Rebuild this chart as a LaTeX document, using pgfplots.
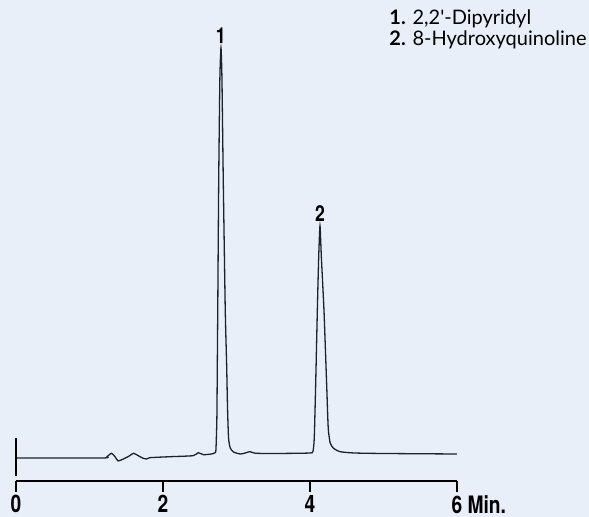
\documentclass[border=0pt]{standalone}
\usepackage{pgfplots}
\pgfplotsset{compat=1.18}
\usepackage{fontspec}
\setmainfont{TeX Gyre Heros}
\newfontfamily\condfont[FakeStretch=0.8]{TeX Gyre Heros}
\newfontfamily\legfont{Lato}
\definecolor{bgblue}{HTML}{E8EFF8}
\definecolor{trace}{HTML}{1A222B}

\begin{document}
\begin{tikzpicture}
% background, 1px = 0.5pt
\fill[bgblue] (0,0) rectangle (294.5pt,258.5pt);
\begin{axis}[
    at={(8pt,18pt)}, anchor=south west,
    x=36.75pt, y=0.5pt,
    xmin=0, xmax=6, ymin=-23, ymax=458,
    axis x line=bottom, axis y line=none,
    x axis line style={-, line width=0.7pt, black},
    xtick={0,2,4,6},
    xticklabels={0,2,4,6\rlap{ Min.}},
    tick align=outside,
    major tick length=5.5pt,
    tick style={line width=1pt, black},
    xticklabel style={font=\condfont\bfseries\fontsize{12}{13}\selectfont,
        anchor=north, inner sep=0pt, yshift=-1.5pt},
    clip=false,
]
\addplot[trace, line width=0.65pt, smooth, tension=0.35] coordinates {
    (0,0) (1.18,0) (1.24,1.5) (1.30,4.7) (1.35,1) (1.39,-3) (1.46,-1)
    (1.53,1.5) (1.60,4.7) (1.67,2) (1.73,-0.3) (1.78,-1) (1.82,0.3)
    (2.10,1.3) (2.41,2.3) (2.48,5.3) (2.55,3.3) (2.66,4) (2.70,5)
    (2.72,8) (2.733,40) (2.739,93) (2.745,148) (2.758,278) (2.774,380)
    (2.789,410) (2.802,380) (2.820,278) (2.847,148) (2.866,93) (2.878,50)
    (2.892,20) (2.915,10) (2.96,6) (3.05,4) (3.12,5) (3.18,6.3) (3.24,5)
    (3.30,4.6) (3.70,4.6) (4.00,5) (4.04,6.5) (4.058,20) (4.077,73)
    (4.100,148) (4.118,200) (4.136,232) (4.155,200) (4.190,148) (4.227,73)
    (4.248,30) (4.275,15) (4.32,9.7) (4.41,6.3) (4.60,5) (5.00,4.5) (6.00,4)
};
\draw[black, line width=1pt] (axis cs:0,20) -- (axis cs:0,-18);
\node[font=\condfont\bfseries\fontsize{11}{12}\selectfont] at (axis cs:2.785,422.5) {1};
\node[font=\condfont\bfseries\fontsize{11}{12}\selectfont] at (axis cs:4.136,244.5) {2};
\node[anchor=base west, font=\legfont\fontsize{10}{11}\selectfont, inner sep=0pt]
    at (axis cs:5.075,433) {\textbf{1.} 2,2'-Dipyridyl};
\node[anchor=base west, font=\legfont\fontsize{10}{11}\selectfont, inner sep=0pt]
    at (axis cs:5.075,412) {\textbf{2.} 8-Hydroxyquinoline};
\end{axis}
\pgfresetboundingbox
\path (0,0) rectangle (294.5pt,258.5pt);
\end{tikzpicture}
\end{document}
